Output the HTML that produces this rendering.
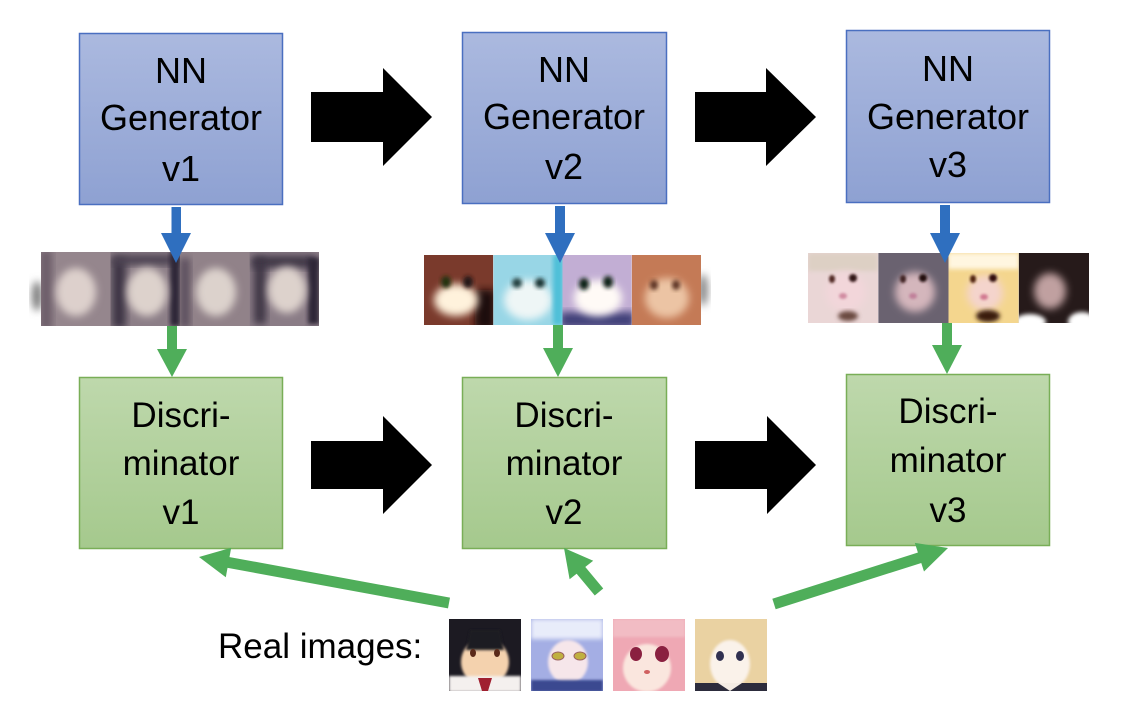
<!DOCTYPE html>
<html><head><meta charset="utf-8"><style>
html,body{margin:0;padding:0;background:#fff;}
svg{display:block;}
text{font-family:"Liberation Sans",sans-serif;fill:#000;}
</style></head><body>
<svg width="1122" height="714" viewBox="0 0 1122 714" xmlns="http://www.w3.org/2000/svg">
<defs>
<linearGradient id="gg" x1="0" y1="0" x2="0" y2="1"><stop offset="0" stop-color="#abb9df"/><stop offset="1" stop-color="#8ea1d2"/></linearGradient>
<linearGradient id="dg" x1="0" y1="0" x2="0" y2="1"><stop offset="0" stop-color="#bed8ac"/><stop offset="1" stop-color="#a5c98d"/></linearGradient>
<filter id="b4" x="-30%" y="-30%" width="160%" height="160%"><feGaussianBlur stdDeviation="4"/></filter>
<filter id="b2" x="-30%" y="-30%" width="160%" height="160%"><feGaussianBlur stdDeviation="2"/></filter>
<filter id="b1" x="-30%" y="-30%" width="160%" height="160%"><feGaussianBlur stdDeviation="1.2"/></filter>
<clipPath id="c1a"><rect x="41" y="252" width="69.5" height="74"/></clipPath>
<clipPath id="c1b"><rect x="110.5" y="252" width="69.5" height="74"/></clipPath>
<clipPath id="c1c"><rect x="180" y="252" width="69.5" height="74"/></clipPath>
<clipPath id="c1d"><rect x="249.5" y="252" width="69.5" height="74"/></clipPath>
<clipPath id="c2a"><rect x="424" y="255" width="69.25" height="70"/></clipPath>
<clipPath id="c2b"><rect x="493.25" y="255" width="69.25" height="70"/></clipPath>
<clipPath id="c2c"><rect x="562.5" y="255" width="69.25" height="70"/></clipPath>
<clipPath id="c2d"><rect x="631.75" y="255" width="69.25" height="70"/></clipPath>
<clipPath id="c3a"><rect x="808" y="253" width="70.25" height="70"/></clipPath>
<clipPath id="c3b"><rect x="878.25" y="253" width="70.25" height="70"/></clipPath>
<clipPath id="c3c"><rect x="948.5" y="253" width="70.25" height="70"/></clipPath>
<clipPath id="c3d"><rect x="1018.75" y="253" width="70.25" height="70"/></clipPath>
<clipPath id="r1"><rect x="449" y="619" width="72" height="72"/></clipPath>
<clipPath id="r2"><rect x="531" y="619" width="72" height="72"/></clipPath>
<clipPath id="r3"><rect x="613" y="619" width="72" height="72"/></clipPath>
<clipPath id="r4"><rect x="695" y="619" width="72" height="72"/></clipPath>
</defs>

<!-- Generator boxes -->
<rect x="79.5" y="33.5" width="203" height="171" fill="url(#gg)" stroke="#4a6fc0" stroke-width="1.5"/>
<rect x="462.5" y="32.5" width="204" height="171" fill="url(#gg)" stroke="#4a6fc0" stroke-width="1.5"/>
<rect x="846.5" y="30.5" width="203" height="172" fill="url(#gg)" stroke="#4a6fc0" stroke-width="1.5"/>
<g font-size="36" text-anchor="middle">
<text x="181" y="83">NN</text><text x="181" y="130">Generator</text><text x="181" y="181">v1</text>
<text x="564" y="82">NN</text><text x="564" y="129">Generator</text><text x="564" y="179">v2</text>
<text x="948" y="81">NN</text><text x="948" y="129">Generator</text><text x="948" y="177">v3</text>
</g>

<!-- Discriminator boxes -->
<rect x="79.5" y="377.5" width="203" height="171" fill="url(#dg)" stroke="#79ae57" stroke-width="1.5"/>
<rect x="462.5" y="377.5" width="204" height="171" fill="url(#dg)" stroke="#79ae57" stroke-width="1.5"/>
<rect x="846.5" y="374.5" width="203" height="171" fill="url(#dg)" stroke="#79ae57" stroke-width="1.5"/>
<g font-size="35" text-anchor="middle">
<text x="181" y="427">Discri-</text><text x="181" y="475">minator</text><text x="181" y="524">v1</text>
<text x="564" y="427">Discri-</text><text x="564" y="475">minator</text><text x="564" y="524">v2</text>
<text x="948" y="423">Discri-</text><text x="948" y="472">minator</text><text x="948" y="522">v3</text>
</g>

<!-- Black block arrows -->
<g fill="#000">
<polygon points="311,92 383,92 383,68 432,117 383,166 383,142 311,142"/>
<polygon points="695,92 766,92 766,68 816,117 766,166 766,142 695,142"/>
<polygon points="311,441 383,441 383,416 432,465 383,514 383,489 311,489"/>
<polygon points="695,441 767,441 767,416 816,465 767,514 767,489 695,489"/>
</g>

<!-- v1 strip -->
<ellipse cx="37" cy="296" rx="5" ry="15" fill="#777" filter="url(#b4)"/>
<g clip-path="url(#c1a)"><rect x="41" y="252" width="69.5" height="74" fill="#95868d"/>
<rect x="40" y="250" width="12" height="80" fill="#6a5c68" filter="url(#b4)"/>
<ellipse cx="76" cy="292" rx="20" ry="24" fill="#ddd0cc" filter="url(#b4)"/></g>
<g clip-path="url(#c1b)"><rect x="110.5" y="252" width="69.5" height="74" fill="#8c7e87"/>
<rect x="112" y="258" width="14" height="70" fill="#3e3444" filter="url(#b4)"/>
<rect x="112" y="255" width="66" height="10" fill="#4a4050" filter="url(#b4)"/>
<rect x="170" y="252" width="10" height="74" fill="#2e2838" filter="url(#b2)"/>
<ellipse cx="147" cy="292" rx="20" ry="24" fill="#ddd2cc" filter="url(#b4)"/></g>
<g clip-path="url(#c1c)"><rect x="180" y="252" width="69.5" height="74" fill="#918289"/>
<rect x="180" y="258" width="10" height="70" fill="#5a4e5c" filter="url(#b4)"/>
<ellipse cx="216" cy="292" rx="20" ry="24" fill="#dcd2cc" filter="url(#b4)"/></g>
<g clip-path="url(#c1d)"><rect x="249.5" y="252" width="69.5" height="74" fill="#8a7c86"/>
<rect x="252" y="256" width="64" height="12" fill="#3e3444" filter="url(#b4)"/>
<rect x="254" y="258" width="12" height="66" fill="#3e3444" filter="url(#b4)"/>
<rect x="308" y="258" width="11" height="66" fill="#2e2838" filter="url(#b2)"/>
<ellipse cx="287" cy="290" rx="19" ry="23" fill="#ddd2cc" filter="url(#b4)"/></g>

<!-- v2 strip -->
<ellipse cx="703" cy="290" rx="5" ry="16" fill="#888" filter="url(#b4)"/>
<g clip-path="url(#c2a)"><rect x="424" y="255" width="69.25" height="70" fill="#7a3a2c"/>
<rect x="475" y="290" width="20" height="40" fill="#1a0c0c" filter="url(#b4)"/>
<ellipse cx="456" cy="300" rx="22" ry="16" fill="#fff2dc" filter="url(#b4)"/>
<ellipse cx="446" cy="282" rx="5" ry="6" fill="#203010" filter="url(#b2)"/><ellipse cx="468" cy="282" rx="5" ry="6" fill="#201418" filter="url(#b2)"/></g>
<g clip-path="url(#c2b)"><rect x="493.25" y="255" width="69.25" height="70" fill="#98d6e6"/>
<ellipse cx="528" cy="300" rx="24" ry="20" fill="#eef6f6" filter="url(#b4)"/>
<rect x="553" y="255" width="10" height="70" fill="#50c0d8" filter="url(#b2)"/>
<ellipse cx="517" cy="283" rx="5" ry="5" fill="#204040" filter="url(#b2)"/><ellipse cx="540" cy="283" rx="5" ry="5" fill="#183030" filter="url(#b2)"/></g>
<g clip-path="url(#c2c)"><rect x="562.5" y="255" width="69.25" height="70" fill="#c2aed4"/>
<rect x="560" y="312" width="75" height="16" fill="#404078" filter="url(#b4)"/>
<ellipse cx="598" cy="298" rx="24" ry="18" fill="#fffaf6" filter="url(#b4)"/>
<ellipse cx="584" cy="284" rx="5" ry="6" fill="#102018" filter="url(#b2)"/><ellipse cx="608" cy="282" rx="5" ry="6" fill="#102018" filter="url(#b2)"/></g>
<g clip-path="url(#c2d)"><rect x="631.75" y="255" width="69.25" height="70" fill="#c47a56"/>
<ellipse cx="667" cy="298" rx="22" ry="20" fill="#ecc4a4" filter="url(#b4)"/>
<ellipse cx="654" cy="285" rx="4" ry="5" fill="#5a3020" filter="url(#b2)"/><ellipse cx="676" cy="285" rx="4" ry="5" fill="#5a3020" filter="url(#b2)"/></g>

<!-- v3 strip -->
<g clip-path="url(#c3a)"><rect x="808" y="253" width="70.25" height="70" fill="#ead6d6"/>
<rect x="808" y="253" width="70" height="18" fill="#ddd0c4" filter="url(#b2)"/>
<ellipse cx="846" cy="292" rx="20" ry="20" fill="#f2d6da" filter="url(#b4)"/>
<ellipse cx="832" cy="279" rx="3" ry="4" fill="#502820" filter="url(#b1)"/><ellipse cx="853" cy="278" rx="4" ry="4" fill="#301818" filter="url(#b1)"/>
<ellipse cx="843" cy="296" rx="4" ry="3" fill="#d08aa0" filter="url(#b1)"/>
<ellipse cx="848" cy="316" rx="10" ry="5" fill="#6a4840" filter="url(#b2)"/></g>
<g clip-path="url(#c3b)"><rect x="878.25" y="253" width="70.25" height="70" fill="#6a6270"/>
<ellipse cx="915" cy="292" rx="20" ry="20" fill="#d4b6bc" filter="url(#b4)"/>
<ellipse cx="903" cy="279" rx="3" ry="4" fill="#402020" filter="url(#b1)"/><ellipse cx="923" cy="278" rx="4" ry="4" fill="#201010" filter="url(#b1)"/>
<ellipse cx="913" cy="296" rx="4" ry="3" fill="#c0809a" filter="url(#b1)"/></g>
<g clip-path="url(#c3c)"><rect x="948.5" y="253" width="70.25" height="70" fill="#f4d68e"/>
<rect x="948" y="253" width="71" height="16" fill="#fff6e0" filter="url(#b2)"/>
<ellipse cx="985" cy="293" rx="18" ry="18" fill="#f4d4cc" filter="url(#b4)"/>
<ellipse cx="973" cy="279" rx="3" ry="4" fill="#502010" filter="url(#b1)"/><ellipse cx="993" cy="278" rx="4" ry="4" fill="#301010" filter="url(#b1)"/>
<ellipse cx="984" cy="297" rx="4" ry="3" fill="#d07890" filter="url(#b1)"/>
<ellipse cx="988" cy="316" rx="12" ry="6" fill="#3a1a10" filter="url(#b2)"/></g>
<g clip-path="url(#c3d)"><rect x="1018.75" y="253" width="70.25" height="70" fill="#261a1a"/>
<ellipse cx="1050" cy="291" rx="16" ry="18" fill="#c0a0a0" filter="url(#b4)"/>
<ellipse cx="1030" cy="322" rx="16" ry="8" fill="#ffffff" filter="url(#b2)"/>
<ellipse cx="1082" cy="322" rx="14" ry="10" fill="#ffffff" filter="url(#b2)"/></g>

<!-- Blue arrows -->
<g fill="#2f6fbf">
<rect x="171.5" y="207" width="9.5" height="27"/><polygon points="161,233 191,233 176,263"/>
<rect x="555" y="206" width="10" height="28"/><polygon points="545,233 575,233 560,263"/>
<rect x="940" y="205" width="10" height="29"/><polygon points="930,233 960,233 945,263"/>
</g>

<!-- Green arrows down -->
<g fill="#4fae5a">
<rect x="167" y="326" width="10" height="24"/><polygon points="157,349 187,349 172,377"/>
<rect x="553" y="325" width="10" height="24"/><polygon points="543,348 573,348 558,377"/>
<rect x="942" y="323" width="10" height="23"/><polygon points="932,345 962,345 947,374"/>
</g>

<!-- Green diagonal arrows -->
<g stroke="#4fae5a" stroke-width="11" fill="none">
<line x1="449" y1="603" x2="226" y2="562"/>
<line x1="599" y1="592" x2="579" y2="568"/>
<line x1="774" y1="604" x2="922" y2="557"/>
</g>
<g fill="#4fae5a">
<polygon points="199,557 231.2,547.7 225.8,577.3"/>
<polygon points="564,548 593.2,560.7 569.6,579.3"/>
<polygon points="948,548 924,571.5 914.8,542.9"/>
</g>

<!-- Real images -->
<text x="218" y="658" font-size="35">Real images:</text>
<g clip-path="url(#r1)"><rect x="449" y="619" width="72" height="72" fill="#1c1a22"/>
<ellipse cx="485" cy="662" rx="24" ry="24" fill="#f4d2ae" filter="url(#b1)"/>
<polygon points="470,630 500,630 504,650 466,650" fill="#1c1a22" filter="url(#b1)"/>
<rect x="449" y="676" width="72" height="16" fill="#f4f0ee" filter="url(#b1)"/>
<polygon points="478,678 492,678 488,691 482,691" fill="#a02030"/>
<ellipse cx="473" cy="653" rx="3" ry="4" fill="#5a2a1a"/><ellipse cx="497" cy="653" rx="3" ry="4" fill="#5a2a1a"/></g>
<g clip-path="url(#r2)"><rect x="531" y="619" width="72" height="72" fill="#a4aee4"/>
<rect x="531" y="619" width="72" height="20" fill="#e8ecfa" filter="url(#b2)"/>
<ellipse cx="568" cy="662" rx="20" ry="22" fill="#f6e6ea" filter="url(#b1)"/>
<rect x="531" y="680" width="72" height="12" fill="#3a4a90" filter="url(#b1)"/>
<ellipse cx="558" cy="656" rx="6" ry="4" fill="#c0b040" stroke="#9a6060" stroke-width="1"/><ellipse cx="580" cy="656" rx="6" ry="4" fill="#c0b040" stroke="#9a6060" stroke-width="1"/></g>
<g clip-path="url(#r3)"><rect x="613" y="619" width="72" height="72" fill="#efa8b4"/>
<ellipse cx="647" cy="668" rx="24" ry="24" fill="#fae6de" filter="url(#b1)"/>
<rect x="613" y="619" width="72" height="18" fill="#f2bcc4" filter="url(#b1)"/>
<ellipse cx="636" cy="654" rx="6" ry="7" fill="#8a2040"/><ellipse cx="662" cy="654" rx="7" ry="8" fill="#8a2040"/>
<ellipse cx="647" cy="672" rx="3" ry="2" fill="#d06060"/></g>
<g clip-path="url(#r4)"><rect x="695" y="619" width="72" height="72" fill="#ead2a2"/>
<ellipse cx="730" cy="664" rx="20" ry="24" fill="#faf2ea" filter="url(#b1)"/>
<rect x="695" y="683" width="72" height="9" fill="#2c2c3c"/>
<polygon points="718,683 742,683 730,691" fill="#f4ece4"/>
<ellipse cx="720" cy="656" rx="4" ry="5" fill="#303050"/><ellipse cx="740" cy="656" rx="4" ry="5" fill="#303050"/></g>
</svg>
</body></html>
